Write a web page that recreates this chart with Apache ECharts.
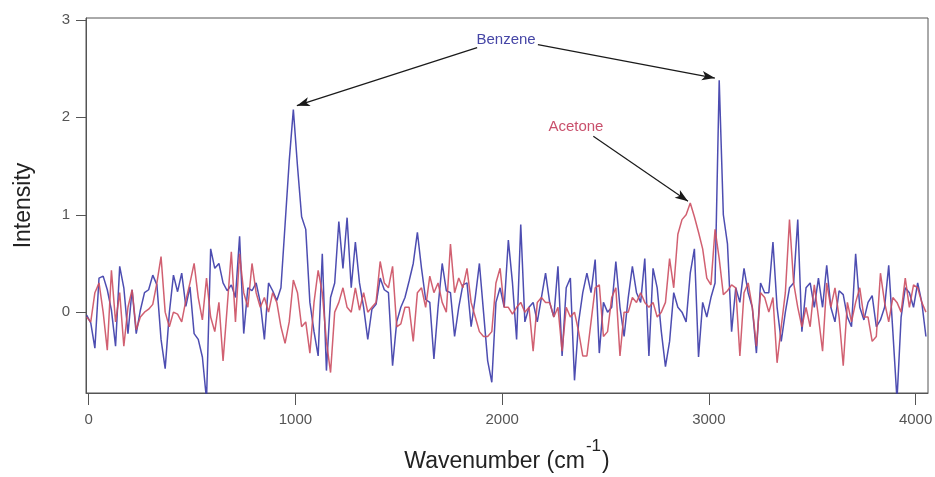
<!DOCTYPE html>
<html><head><meta charset="utf-8">
<script src="https://cdn.jsdelivr.net/npm/echarts@6/dist/echarts.min.js"></script>
<style>html,body{margin:0;padding:0;background:#fff}#c{width:935px;height:477px}</style>
</head><body><div id="c"></div>
<script>
// sampling grid of the spectra (cm-1)
const WN_START = -10, WN_STEP = 20;
// Benzene (blue) intensities
const benzene = [
 -0.03,-0.11,-0.37,0.35,0.37,0.23,0.02,-0.35,0.47,0.25,-0.22,0.23,-0.22,0.02,0.20,0.23,0.38,0.28,-0.28,-0.58,-0.01,0.38,0.21,0.40,0.06,0.26,-0.22,-0.28,-0.46,
 -0.90,0.65,0.45,0.50,0.30,0.22,0.28,0.15,0.78,-0.22,0.25,0.22,0.30,0.10,-0.28,0.30,0.22,0.12,0.25,0.90,1.55,2.08,1.50,0.98,0.85,0.10,-0.20,-0.45,0.60,
 -0.60,0.15,0.30,0.93,0.45,0.97,0.25,0.72,0.30,0.05,-0.28,0.03,0.08,0.35,0.23,0.20,-0.55,-0.10,0.05,0.15,0.32,0.50,0.82,0.45,0.13,0.10,-0.48,0.05,0.50,
 0.22,0.20,-0.25,0.05,0.28,0.30,-0.15,0.15,0.50,0.00,-0.50,-0.72,0.10,0.25,0.05,0.74,0.30,-0.28,0.90,-0.10,0.05,0.10,-0.10,0.15,0.40,0.10,-0.05,0.47,-0.45,
 0.25,0.35,-0.70,-0.10,0.20,0.40,0.20,0.54,-0.42,0.10,0.00,0.05,0.52,0.05,-0.25,0.15,0.47,0.20,0.10,0.55,-0.45,0.45,0.25,-0.20,-0.56,-0.30,0.20,0.05,0.00,
 -0.10,0.40,0.65,-0.46,0.10,-0.05,0.15,0.30,2.38,1.00,0.70,-0.20,0.25,0.10,0.45,0.20,0.05,-0.42,0.30,0.20,0.20,0.72,0.05,-0.30,0.00,0.25,0.30,0.95,-0.20,
 0.25,0.30,0.05,0.35,0.05,0.48,0.05,-0.10,0.22,0.18,-0.05,-0.15,0.60,0.05,-0.08,0.10,0.17,-0.15,-0.08,0.05,0.48,-0.20,-0.90,-0.05,0.25,0.20,0.05,0.30,0.10,-0.25
];
// Acetone (red) intensities
const acetone = [
 -0.05,-0.10,0.20,0.30,0.00,-0.39,0.43,-0.10,0.20,-0.35,0.05,0.23,-0.18,-0.05,0.00,0.03,0.08,0.30,0.57,0.00,-0.15,0.00,-0.02,-0.10,0.12,0.30,0.50,0.15,-0.08,
 0.35,-0.05,-0.20,0.10,-0.50,0.05,0.62,-0.10,0.60,0.20,0.05,0.50,0.20,0.05,0.15,0.00,0.20,0.10,-0.15,-0.32,-0.10,0.33,0.20,-0.15,-0.10,-0.42,0.10,0.43,0.20,
 -0.30,-0.62,0.00,0.10,0.25,0.05,0.00,0.25,0.02,0.20,0.00,0.05,0.10,0.52,0.30,0.25,0.47,-0.15,-0.12,0.05,0.05,-0.30,0.20,0.25,0.05,0.37,0.20,0.30,0.10,
 0.00,0.70,0.20,0.35,0.25,0.45,0.10,-0.05,-0.20,-0.25,-0.25,-0.20,0.30,0.45,0.05,0.05,-0.02,0.05,0.10,0.00,0.05,-0.40,0.10,0.15,0.10,0.10,-0.05,0.05,-0.40,
 0.05,-0.05,0.00,-0.20,-0.45,-0.45,-0.10,0.25,0.28,-0.25,-0.20,0.15,0.25,-0.45,0.00,0.00,0.15,0.10,0.20,0.10,0.05,0.10,-0.05,0.00,0.10,0.55,0.25,0.80,0.95,
 1.00,1.12,0.98,0.82,0.65,0.35,0.28,0.85,0.55,0.18,0.22,0.28,0.25,-0.45,0.20,0.30,0.05,-0.35,0.20,0.15,0.00,0.15,-0.52,-0.15,0.20,0.95,0.30,0.05,-0.15,
 0.05,-0.15,0.28,-0.05,-0.40,0.30,0.05,0.25,-0.05,-0.55,0.10,-0.10,0.10,0.25,-0.05,-0.05,-0.30,-0.25,0.40,0.10,-0.10,0.15,0.10,0.00,0.35,0.05,0.28,0.25,0.10,0.00
];
const xTicks = [0, 1000, 2000, 3000, 4000];
const yTicks = [0, 1, 2, 3];
// annotation labels and arrows (data coordinates)
const labels = [
  {name: 'Benzene', coord: [2019, 2.80], color: '#4646a6'},
  {name: 'Acetone', coord: [2357, 1.90], color: '#c9506c'}
];
const arrows = [
  [[1879, 2.716], [1007, 2.12]],
  [[2173, 2.747], [3029, 2.403]],
  [[2441, 1.805], [2899, 1.139]]
];

const wavenumbers = benzene.map((_, i) => WN_START + i * WN_STEP);
const FONT = "'Liberation Sans Narrow','Liberation Sans',Arial,sans-serif";
const FONT2 = "'Liberation Sans',Arial,sans-serif";

const chart = echarts.init(document.getElementById('c'), null, {renderer: 'canvas'});
chart.setOption({
  backgroundColor: '#fff',
  animation: false,
  grid: {left: 86, right: 7, top: 18, bottom: 84, show: true, borderColor: '#555', borderWidth: 1,
         containLabel: false, outerBoundsMode: 'none'},
  xAxis: {
    type: 'value', min: -13, max: 4060,
    name: '{a|Wavenumber (cm}{s|-1}{a|)}', nameLocation: 'middle', nameGap: 45,
    nameTextStyle: {rich: {
      a: {fontSize: 23, fontFamily: FONT2, color: '#222', verticalAlign: 'bottom'},
      s: {fontSize: 17, fontFamily: FONT2, color: '#222', verticalAlign: 'bottom', padding: [0, 1, 18, 1]}
    }},
    axisLine: {show: true, onZero: false, lineStyle: {color: '#555'}},
    axisTick: {show: true, inside: false, length: 12, customValues: xTicks, lineStyle: {color: '#555'}},
    axisLabel: {customValues: xTicks, margin: 19, fontSize: 15, fontFamily: FONT, color: '#555',
                formatter: v => String(v)},
    splitLine: {show: false}
  },
  yAxis: {
    type: 'value', min: -0.83, max: 3.02,
    name: 'Intensity', nameLocation: 'middle', nameGap: 51,
    nameTextStyle: {fontSize: 23, fontFamily: FONT2, color: '#222'},
    axisLine: {show: true, onZero: false, lineStyle: {color: '#555'}},
    axisTick: {show: true, inside: false, length: 10, customValues: yTicks, lineStyle: {color: '#555'}},
    axisLabel: {customValues: yTicks, margin: 16, fontSize: 15, fontFamily: FONT, color: '#555',
                formatter: v => String(v)},
    splitLine: {show: false}
  },
  series: [
    {
      name: 'Benzene', type: 'line', showSymbol: false, symbol: 'none',
      data: wavenumbers.map((x, i) => [x, benzene[i]]),
      lineStyle: {color: '#3a3aa8', width: 1.5, opacity: 0.9},
      itemStyle: {color: '#3a3aa8'},
      silent: true
    },
    {
      name: 'Acetone', type: 'line', showSymbol: false, symbol: 'none',
      data: wavenumbers.map((x, i) => [x, acetone[i]]),
      lineStyle: {color: '#cc4f62', width: 1.5, opacity: 0.9},
      itemStyle: {color: '#cc4f62'},
      silent: true,
      markLine: {
        silent: true, symbol: ['none', 'arrow'], symbolSize: [7, 13], precision: 3,
        lineStyle: {color: '#1a1a1a', width: 1.2, type: 'solid'},
        label: {show: false},
        emphasis: {disabled: true},
        data: arrows.map(a => [{coord: a[0]}, {coord: a[1]}])
      },
      markPoint: {
        silent: true, symbol: 'rect', symbolSize: 1,
        itemStyle: {color: 'rgba(0,0,0,0)'},
        data: labels.map(l => ({name: l.name, coord: l.coord,
          label: {show: true, position: 'inside', formatter: '{b}', color: l.color, fontSize: 15, fontFamily: FONT2}}))
      }
    }
  ]
});
</script>
</body></html>
